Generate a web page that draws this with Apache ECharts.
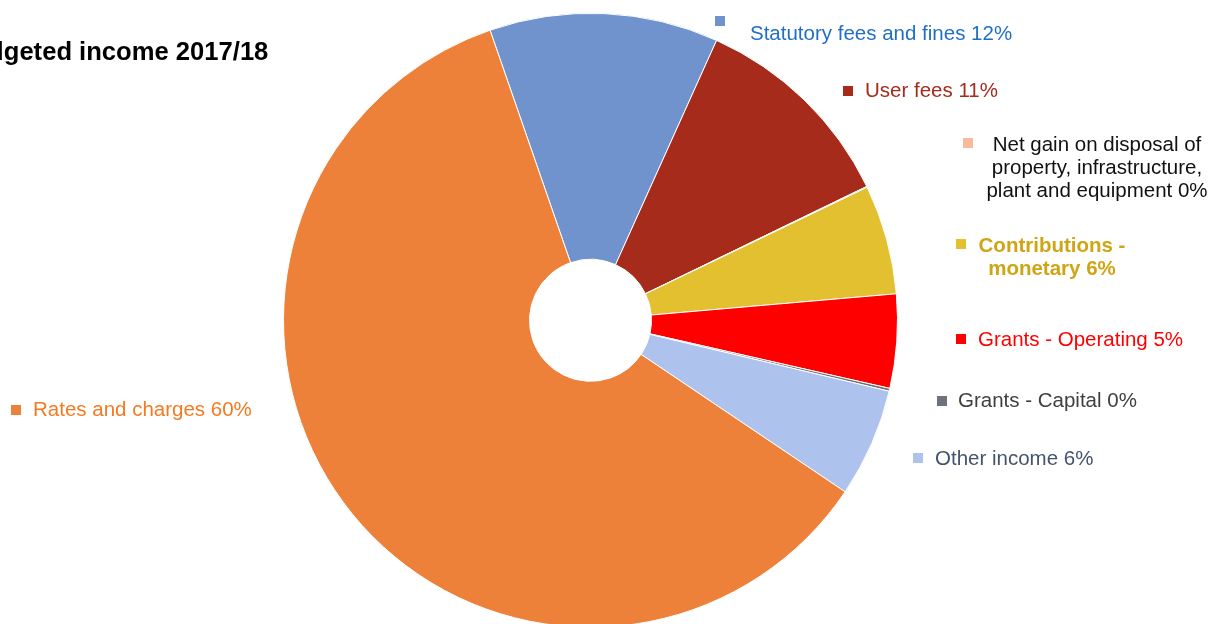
<!DOCTYPE html>
<html>
<head>
<meta charset="utf-8">
<title>Budgeted income 2017/18</title>
<script src="https://cdn.jsdelivr.net/npm/echarts@6/dist/echarts.min.js"></script>
<style>
  html, body { margin: 0; padding: 0; background: #ffffff; }
  #chart { width: 1217px; height: 624px; }
</style>
</head>
<body>
<div id="chart"></div>
<script>
// Income categories, in drawing order (clockwise from the top)
const categories = [
  'Statutory fees and fines',
  'User fees',
  'Net gain on disposal of\nproperty, infrastructure,\nplant and equipment',
  'Contributions -\nmonetary',
  'Grants - Operating',
  'Grants - Capital',
  'Other income',
  'Rates and charges'
];
// Share of budgeted income (%)
const shares = [12.05, 11.09, 0.05, 5.76, 4.94, 0.15, 5.73, 60.3];
// Slice fill colours
const sliceColors = ['#7093CE', '#A62B1A', '#F9B99B', '#E3C02F', '#FF0000', '#6E727C', '#AEC2EE', '#EE8139'];
// Label text colours
const labelColors = ['#1F6FC6', '#A62B1A', '#111111', '#CFA514', '#FF0000', '#404040', '#44546A', '#F47A20'];
const labelWeights = ['normal', 'normal', 'normal', 'bold', 'normal', 'normal', 'normal', 'normal'];

// Label placement: text anchor and legend-key box for each category
const labelPos = [
  { x: 750,  y: 34,  align: 'left' },
  { x: 865,  y: 91,  align: 'left' },
  { x: 1097, y: 168, align: 'center' },
  { x: 1052, y: 258, align: 'center' },
  { x: 978,  y: 340, align: 'left' },
  { x: 958,  y: 401, align: 'left' },
  { x: 935,  y: 459, align: 'left' },
  { x: 33,   y: 410, align: 'left' }
];
const keyPos = [
  [715, 16], [843, 86], [963, 138], [956, 239],
  [956, 334], [937, 396], [913, 453], [11, 405]
];

const FONT = '"Liberation Sans", Arial, sans-serif';

const pieData = categories.map((name, i) => ({
  name: name,
  value: shares[i],
  itemStyle: { color: sliceColors[i] },
  label: { color: labelColors[i], fontWeight: labelWeights[i] }
}));

// One single-entry legend per category acts as the coloured key box
const legends = categories.map((name, i) => ({
  data: [name],
  left: keyPos[i][0],
  top: keyPos[i][1],
  padding: 0,
  icon: 'rect',
  itemWidth: 10,
  itemHeight: 10,
  itemGap: 0,
  itemStyle: { borderWidth: 0 },
  selectedMode: false,
  formatter: () => '',
  textStyle: { fontSize: 1, padding: 0 }
}));

const chart = echarts.init(document.getElementById('chart'), null, { renderer: 'canvas' });
chart.setOption({
  animation: false,
  backgroundColor: '#ffffff',
  title: {
    text: 'Budgeted income 2017/18',
    left: -46,
    top: 40,
    padding: 0,
    textStyle: { fontFamily: FONT, fontSize: 25.6, fontWeight: 'bold', color: '#000000' }
  },
  legend: legends,
  series: [{
    type: 'pie',
    center: [590.5, 320.3],
    radius: [61, 307],
    startAngle: 109.1,
    clockwise: true,
    avoidLabelOverlap: false,
    percentPrecision: 0,
    itemStyle: { borderColor: '#ffffff', borderWidth: 1 },
    emphasis: { scale: false },
    labelLine: { show: false },
    label: {
      show: true,
      position: 'outside',
      fontFamily: FONT,
      fontSize: 20.5,
      lineHeight: 23,
      formatter: p => p.name + ' ' + p.percent + '%'
    },
    labelLayout: p => {
      const L = labelPos[p.dataIndex];
      return { x: L.x, y: L.y, align: L.align, verticalAlign: 'middle', hideOverlap: false };
    },
    data: pieData
  }]
});
</script>
</body>
</html>
